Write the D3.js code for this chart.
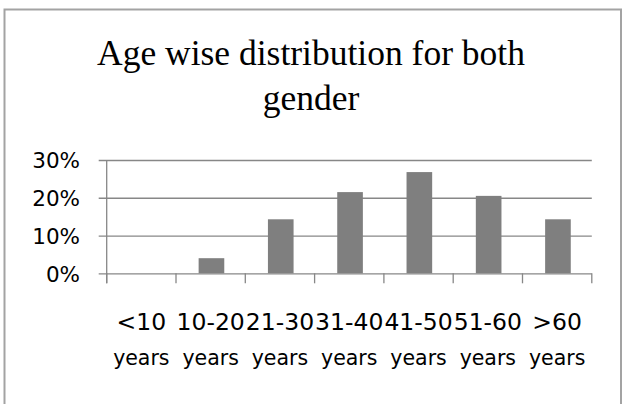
<!DOCTYPE html>
<html>
<head>
<meta charset="utf-8">
<script src="https://cdn.jsdelivr.net/npm/d3@7"></script>
<style>
  html, body { margin: 0; padding: 0; background: #fff; }
  svg { display: block; }
</style>
</head>
<body>
<svg id="chart" width="622" height="404"></svg>
<script>
// Age groups and the share of respondents (both genders) in each, in percent
const categories = ["<10 years", "10-20 years", "21-30 years", "31-40 years", "41-50 years", "51-60 years", ">60 years"];
const shares = [0, 4.0, 14.3, 21.5, 26.8, 20.5, 14.3];
const yTicks = [0, 10, 20, 30];
const titleLines = ["Age wise distribution for both", "gender"];

const svg = d3.select("#chart");
const plot = { left: 106.7, right: 591.8, top: 160, bottom: 273.3 };
const gridColor = "#878787";

// chart frame
svg.append("rect")
  .attr("x", 4.5).attr("y", 9.5)
  .attr("width", 616.5).attr("height", 420)
  .attr("fill", "#fff")
  .attr("stroke", "#a3a3a3")
  .attr("stroke-width", 2);

// title
svg.append("text")
  .attr("text-anchor", "middle")
  .attr("font-family", "'Liberation Serif', 'Times New Roman', serif")
  .attr("font-size", 35.5)
  .attr("fill", "#000")
  .selectAll("tspan")
  .data(titleLines)
  .join("tspan")
  .attr("x", 311)
  .attr("y", (d, i) => 65 + i * 45)
  .text(d => d);

const x = d3.scaleBand().domain(categories).range([plot.left, plot.right]).padding(0);
const y = d3.scaleLinear().domain([0, 30]).range([plot.bottom, plot.top]);

// horizontal gridlines with outside tick stubs
const yAxis = d3.axisLeft(y)
  .tickValues(yTicks)
  .tickSize(-(plot.right - plot.left))
  .tickSizeOuter(0)
  .tickFormat(d => d + "%");

const gy = svg.append("g")
  .attr("transform", `translate(${plot.left},0)`)
  .call(yAxis);
gy.select(".domain").remove();
gy.selectAll(".tick line")
  .attr("x1", -8)
  .attr("stroke", gridColor)
  .attr("stroke-width", 1.3);
gy.selectAll(".tick text")
  .attr("x", -26.7)
  .attr("dy", "0.36em")
  .attr("font-family", "'DejaVu Sans', Verdana, sans-serif")
  .attr("font-size", 21.5)
  .attr("fill", "#000");

// vertical axis line
svg.append("line")
  .attr("x1", plot.left).attr("x2", plot.left)
  .attr("y1", y(30)).attr("y2", y(0) + 10)
  .attr("stroke", gridColor).attr("stroke-width", 1.3);

// category tick marks on the baseline, at the band edges
const edges = categories.map(c => x(c)).concat([x(categories[categories.length - 1]) + x.bandwidth()]);
svg.append("g")
  .selectAll("line")
  .data(edges)
  .join("line")
  .attr("x1", d => d).attr("x2", d => d)
  .attr("y1", y(0)).attr("y2", y(0) + 10)
  .attr("stroke", gridColor).attr("stroke-width", 1.3);

// bars
const barW = x.bandwidth() * 0.37;
svg.append("g")
  .selectAll("rect")
  .data(categories.map((c, i) => ({ c, v: shares[i] })))
  .join("rect")
  .attr("x", d => x(d.c) + x.bandwidth() / 2 - barW / 2 + 0.8)
  .attr("width", barW)
  .attr("y", d => y(d.v))
  .attr("height", d => y(0) - y(d.v))
  .attr("fill", "#7f7f7f");

// category labels: range on the first line, "years" on the second
const labels = svg.append("g")
  .attr("font-family", "'DejaVu Sans', Verdana, sans-serif")
  .attr("fill", "#000")
  .attr("text-anchor", "middle");
categories.forEach(c => {
  const parts = c.split(" ");
  const cx = x(c) + x.bandwidth() / 2;
  labels.append("text")
    .attr("x", cx).attr("y", 330)
    .attr("font-size", 23.5)
    .text(parts[0]);
  labels.append("text")
    .attr("x", cx).attr("y", 365)
    .attr("font-size", 20.5)
    .text(parts[1]);
});
</script>
</body>
</html>
